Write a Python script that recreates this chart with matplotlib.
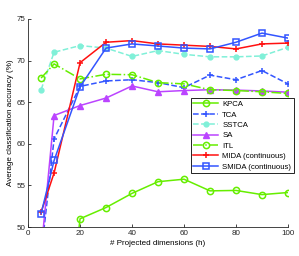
import numpy as np
import matplotlib
matplotlib.use("Agg")
import matplotlib.pyplot as plt

plt.rcParams['font.family'] = ['Liberation Sans', 'DejaVu Sans']
plt.rcParams['font.size'] = 5.8

# Data
dims = [5, 10, 20, 30, 40, 50, 60, 70, 80, 90, 100]
kpca = [20.0, 24.0, 51.0, 52.35, 54.05, 55.45, 55.75, 54.35, 54.4, 53.9, 54.15]
tca = [46.7, 60.6, 66.9, 67.55, 67.7, 67.35, 66.75, 68.25, 67.7, 68.8, 67.2]
sstca = [66.5, 71.0, 71.8, 71.5, 70.5, 71.2, 70.75, 70.45, 70.45, 70.55, 71.6]
sa = [47.1, 63.4, 64.6, 65.5, 66.95, 66.25, 66.4, 66.5, 66.45, 66.35, 66.2]
itl = [67.9, 69.6, 67.8, 68.35, 68.3, 67.35, 67.2, 66.5, 66.4, 66.25, 66.05]
mida = [51.8, 56.5, 69.75, 72.2, 72.4, 72.0, 71.85, 71.7, 71.4, 72.0, 72.1]
smida = [51.6, 58.0, 66.85, 71.5, 72.0, 71.75, 71.5, 71.4, 72.2, 73.3, 72.7]

green = '#66ee00'
blue = '#3355ff'
cyan = '#80f0d8'
purple = '#bb44ff'
red = '#ff1010'

fig = plt.figure(figsize=(2.99, 2.56), dpi=100)
ax = fig.add_axes([0.094, 0.113, 0.869, 0.813])

lw = 1.1
ms = 4.5
ax.plot(dims, kpca, '-', color=green, lw=lw, marker='o', ms=ms, mfc='none', mew=1.1, label='KPCA')
ax.plot(dims, tca, '--', color=blue, lw=lw, marker='+', ms=ms, mew=1.1, label='TCA')
ax.plot(dims, sstca, '--', color=cyan, lw=lw, marker='o', ms=3.5, mfc=cyan, label='SSTCA')
ax.plot(dims, sa, '-', color=purple, lw=lw, marker='^', ms=ms, mfc=purple, label='SA')
ax.plot(dims, itl, '-.', color=green, lw=lw, marker='o', ms=ms, mfc='none', mew=1.1, label='ITL')
ax.plot(dims, mida, '-', color=red, lw=lw, marker='+', ms=ms, mew=1.1, label='MIDA (continuous)')
ax.plot(dims, smida, '-', color=blue, lw=lw, marker='s', ms=ms, mfc='none', mew=1.1, label='SMIDA (continuous)')

ax.set_xlim(0, 100)
ax.set_ylim(50, 75)
ax.set_xticks(np.arange(0, 101, 20))
ax.set_yticks(np.arange(50, 76, 5))
ax.tick_params(direction='in', length=2.5, width=0.6, colors='#262626', pad=2)
for s in ['top', 'right']:
    ax.spines[s].set_visible(False)
for s in ['left', 'bottom']:
    ax.spines[s].set_linewidth(0.6)
    ax.spines[s].set_color('#262626')

ax.set_xlabel('# Projected dimensions (h)', labelpad=2)
ax.set_ylabel('Average classification accuracy (%)', labelpad=2)

leg = ax.legend(loc='upper right', bbox_to_anchor=(1.023, 0.62), borderaxespad=0,
                fancybox=False, edgecolor='black', framealpha=1, handlelength=3.2,
                labelspacing=0.38, borderpad=0.35, handletextpad=0.5, fontsize=5.6)
leg.get_frame().set_linewidth(0.6)

fig.savefig('out.png', dpi=100)
